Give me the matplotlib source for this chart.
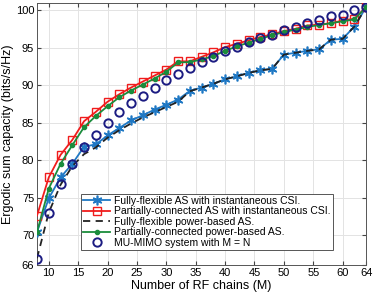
import numpy as np
import matplotlib
matplotlib.use("Agg")
import matplotlib.pyplot as plt

plt.rcParams["font.family"] = ["Liberation Sans", "DejaVu Sans"]

# number of RF chains
rf_chains = [8, 10, 12, 14, 16, 18, 20, 22, 24, 26, 28, 30, 32, 34, 36,
             38, 40, 42, 44, 46, 48, 50, 52, 54, 56, 58, 60, 62, 64]

ff_inst = [70.4, 74.9, 77.7, 79.5, 81.8, 82.1, 83.3, 84.3, 85.3, 86.0, 86.75,
           87.4, 88.1, 89.25, 89.7, 90.2, 90.8, 91.2, 91.65, 92.0, 92.2,
           94.1, 94.35, 94.6, 94.8, 96.1, 96.2, 97.85, 100.45]
pc_inst = [72.6, 77.7, 80.7, 82.7, 85.2, 86.45, 87.8, 88.8, 89.7, 90.5, 91.3,
           92.1, 93.2, 93.2, 93.8, 94.4, 95.1, 95.55, 96.0, 96.45, 96.8,
           97.25, 97.55, 98.0, 98.1, 98.3, 98.65, 98.9, 100.45]
ff_power = [66.9, 73.0, 76.7, 79.2, 80.8, 81.7, 83.0, 84.0, 84.9, 85.7, 86.4,
            87.1, 87.8, 89.2, 89.7, 90.2, 90.8, 91.2, 91.65, 92.0, 92.2,
            94.1, 94.35, 94.6, 94.8, 96.1, 96.2, 97.85, 100.45]
pc_power = [70.4, 76.2, 79.5, 82.0, 84.4, 85.9, 87.2, 88.4, 89.3, 90.1, 90.9,
            91.8, 93.05, 93.1, 93.45, 93.9, 94.6, 95.2, 95.7, 96.2, 96.7,
            97.1, 97.45, 97.8, 98.05, 98.3, 98.55, 98.8, 100.45]
mu_mimo = [66.8, 73.0, 76.75, 79.5, 81.8, 83.4, 85.0, 86.45, 87.7, 88.6, 89.7,
           90.75, 91.55, 92.35, 93.1, 93.8, 94.6, 95.1, 95.8, 96.35, 96.75,
           97.4, 97.85, 98.35, 98.75, 99.2, 99.45, 100.0, 100.45]

labels = [
    "Fully-flexible AS with instantaneous CSI.",
    "Partially-connected AS with instantaneous CSI.",
    "Fully-flexible power-based AS.",
    "Partially-connected power-based AS.",
    "MU-MIMO system with M = N",
]

fig = plt.figure(figsize=(3.74, 2.96), dpi=100)
ax = fig.add_axes([0.099, 0.105, 0.88, 0.885])

blue = "#1f78c4"
red = "#f01c1c"
green = "#1a8c3c"
navy = "#1c1c82"

ax.plot(rf_chains, ff_inst, color=blue, lw=1.3, marker=(6, 2, 0), ms=7,
        mew=1.2, label=labels[0], zorder=3)
ax.plot(rf_chains, pc_inst, color=red, lw=1.3, marker="s", ms=6, mfc="none",
        mew=1.0, label=labels[1], zorder=3)
ax.plot(rf_chains, ff_power, color="#222222", lw=1.3, ls=(0, (4, 3)),
        label=labels[2], zorder=4)
ax.plot(rf_chains, pc_power, color=green, lw=1.3, marker="o", ms=3,
        label=labels[3], zorder=4)
ax.plot(rf_chains, mu_mimo, ls="none", marker="o", ms=6, mfc="none",
        mec=navy, mew=1.4, label=labels[4], zorder=5)

ax.set_xlim(8, 64)
ax.set_ylim(66, 101)
ax.set_xticks([10, 15, 20, 25, 30, 35, 40, 45, 50, 55, 60, 64])
ax.set_yticks([66, 70, 75, 80, 85, 90, 95, 100])
ax.grid(True, color="#e3e3e3", lw=0.7)
ax.set_axisbelow(True)
ax.tick_params(direction="in", top=True, right=True, labelsize=8,
               length=3, color="#444444", pad=2)
for s in ax.spines.values():
    s.set_color("#555555")
    s.set_linewidth(0.7)

ax.set_xlabel("Number of RF chains (M)", fontsize=9, labelpad=2)
ax.set_ylabel("Ergodic sum capacity (bits/s/Hz)", fontsize=9, labelpad=1)

leg = ax.legend(loc="lower left", bbox_to_anchor=(0.134, 0.057),
                borderaxespad=0, fontsize=7.5, labelspacing=0.05,
                handlelength=2.6, handletextpad=0.4, borderpad=0.2,
                fancybox=False, framealpha=1, edgecolor="#555555")
leg.get_frame().set_linewidth(0.7)

fig.savefig("out.png", dpi=100)
